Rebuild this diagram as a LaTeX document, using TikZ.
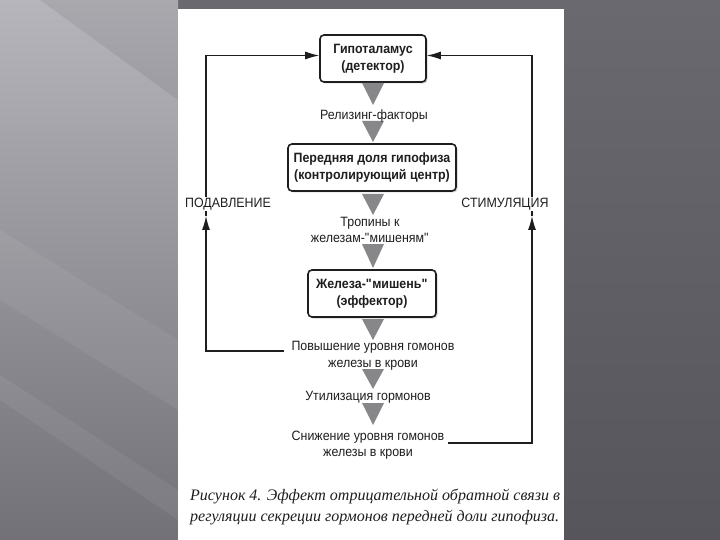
\documentclass[tikz,border=0pt]{standalone}
\usepackage{fontspec}
\setmainfont[FakeStretch=0.92]{Liberation Sans}
\newfontfamily\capfont{Liberation Serif}
\usetikzlibrary{arrows.meta,shadows}

\definecolor{trigray}{RGB}{135,135,138}
\definecolor{inkgray}{RGB}{30,30,32}

\begin{document}
\begin{tikzpicture}[x=1pt,y=-1pt,
    box/.style={draw=inkgray, line width=1.6pt, rounded corners=4pt, fill=white,
        align=center, text=inkgray, font=\bfseries\fontsize{13.5}{17}\selectfont,
        minimum height=47pt,
        drop shadow={opacity=0.35, shadow xshift=1.5pt, shadow yshift=-1.5pt}},
    lbl/.style={align=center, text=inkgray, inner sep=1pt,
        font=\fontsize{13.5}{16.5}\selectfont},
    fb/.style={draw=inkgray, line width=1.1pt, -{Latex[length=14pt,width=8pt]}}]

    % background
    \shade[top color={rgb,255:red,106;green,105;blue,111},
           bottom color={rgb,255:red,86;green,85;blue,91}] (0,0) rectangle (720,540);
    \shade[top color={rgb,255:red,182;green,181;blue,187},
           bottom color={rgb,255:red,114;green,113;blue,120}] (0,0) rectangle (178,540);
    \begin{scope}
        \clip (0,0) rectangle (178,540);
        \fill[black, opacity=0.07] (40,0) -- (178,0) -- (178,100) -- cycle;
        \fill[white, opacity=0.06] (0,230) -- (0,300) -- (178,410) -- (178,340) -- cycle;
        \fill[white, opacity=0.06] (0,375) -- (0,400) -- (178,520) -- (178,490) -- cycle;
    \end{scope}
    \fill[white] (178,9) rectangle (564,540);

    % boxes
    \node[box, minimum width=106pt] (gip) at (373,58.5) {Гипоталамус\\(детектор)};
    \node[box, minimum width=168pt] (perd) at (372,167.5)
        {Передняя доля гипофиза\\(контролирующий центр)};
    \node[box, minimum width=128pt] (zhel) at (372,293.5)
        {Железа-\textquotedbl мишень\textquotedbl\\(эффектор)};

    % gray triangles
    \foreach \t/\b in {83/105, 121/142, 194/215, 244/268, 319/340, 369/389, 403/425}
        \fill[trigray] (362,\t) -- (384,\t) -- (373,\b) -- cycle;

    % labels
    \node[lbl] (rel) at (374,116) {Релизинг-факторы};
    \node[lbl] (trop) at (370,230) {Тропины к\\железам-\textquotedbl мишеням\textquotedbl};
    \node[lbl] (povysh) at (373,356) {Повышение уровня гомонов\\железы в крови};
    \node[lbl] (util) at (368,397) {Утилизация гормонов};
    \node[lbl] (snizh) at (368,445) {Снижение уровня гомонов\\железы в крови};

    % feedback loops
    \coordinate (lbot) at (284,351);
    \coordinate (lmid) at (206,216);
    \coordinate (rbot) at (448,443);
    \coordinate (rmid) at (532,216);
    \draw[fb] (lbot) -| (lmid);
    \draw[fb] (lmid) |- ([yshift=3pt]gip.west);
    \draw[fb] (rbot) -| (rmid);
    \draw[fb] (rmid) |- ([yshift=3pt]gip.east);

    \node[lbl, fill=white] (podav) at (228,204) {ПОДАВЛЕНИЕ};
    \node[lbl, fill=white] (stim) at (505,204) {СТИМУЛЯЦИЯ};

    % caption
    \node[anchor=west, align=left, text=inkgray, inner sep=0pt,
          font=\capfont\itshape\fontsize{16}{21}\selectfont] (cap) at (190,507)
        {Рисунок 4. Эффект отрицательной обратной связи в\\
         регуляции секреции гормонов передней доли гипофиза.};
\end{tikzpicture}
\end{document}
